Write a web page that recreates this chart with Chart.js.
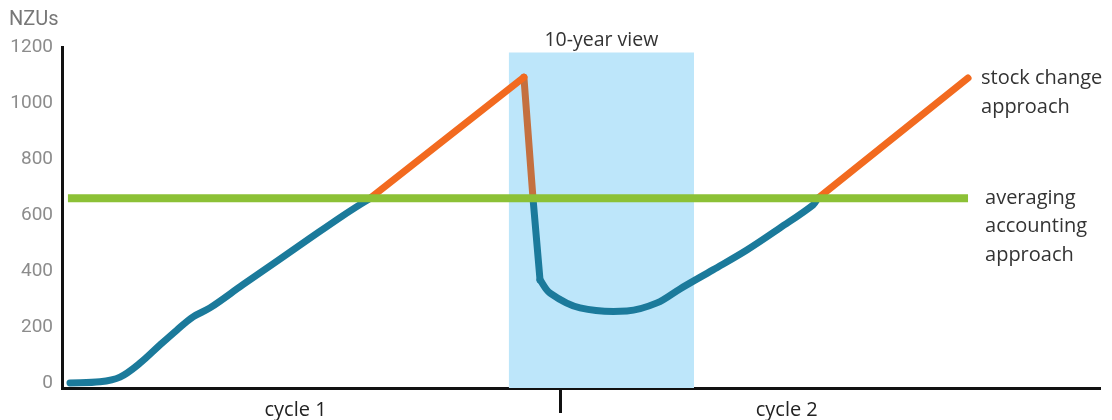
<!DOCTYPE html>
<html>
<head>
<meta charset="utf-8">
<title>NZUs by accounting approach</title>
<script src="https://cdn.jsdelivr.net/npm/chart.js@4/dist/chart.umd.min.js"></script>
<style>
  html, body { margin: 0; padding: 0; background: #fff; }
  #wrap { width: 1112px; height: 420px; }
</style>
</head>
<body>
<div id="wrap"><canvas id="nzuChart"></canvas></div>
<script>
// stock change curve: years vs NZUs held
const stockYears = [0.43, 2.05, 3.13, 4.21, 5.29, 6.2, 7.07, 7.98, 9.76, 11.6, 13.38, 15.16, 16.62,
  24.92, 25.41, 25.79, 26.33, 27.95, 30.48, 32.1, 33.34, 35.12, 36.95, 38.74, 40.52, 40.78, 48.88];
const stockValues = [0, 4, 21, 71, 136, 189, 236, 268, 351, 435, 517, 598, 660,
  1092, 660, 368, 321, 268, 257, 286, 336, 404, 475, 554, 636, 660, 1089];

// averaging accounting level
const avgYears = [0.32, 48.88];
const avgValues = [660, 660];

// 10-year view window
const viewYears = [24.1, 34.1];
const viewValues = [1180, 1180];

const yTicks = [0, 200, 400, 600, 800, 1000, 1200];
const cycleTicks = [12.6, 26.9, 39.1];
const cycleLabels = ["cycle 1", "", "cycle 2"];

const BLUE = "#1b7a9b";
const ORANGE = "#f26a1f";
const BROWN = "#c4703f";
const GREEN = "#8cc136";

// pieces of the stock curve: [first index, last index, colour, tension]
const pieces = [
  [0, 12, BLUE, 0.35],
  [12, 13, ORANGE, 0],
  [13, 14, BROWN, 0],
  [14, 15, BLUE, 0],
  [15, 25, BLUE, 0.35],
  [25, 26, ORANGE, 0],
];

const toXY = (xs, ys) => xs.map((x, i) => ({ x: x, y: ys[i] }));
const stockPoints = toXY(stockYears, stockValues);

const stockSets = pieces.map(([a, b, color, tension]) => ({
  data: stockPoints.slice(a, b + 1),
  borderColor: color,
  borderWidth: 7,
  borderCapStyle: "round",
  borderJoinStyle: "round",
  pointRadius: 0,
  tension: tension,
  order: 2,
}));

// text labels tied to the data
const notes = {
  id: "notes",
  afterDraw(chart) {
    const { ctx, scales: { x, y } } = chart;
    ctx.save();
    ctx.textBaseline = "middle";

    ctx.fillStyle = "#777";
    ctx.font = "20px Roboto";
    ctx.textAlign = "left";
    ctx.fillText("NZUs", 9, 20);

    ctx.fillStyle = "#333";
    ctx.font = "19.5px 'Open Sans'";
    ctx.textAlign = "center";
    ctx.fillText("10-year view", x.getPixelForValue((viewYears[0] + viewYears[1]) / 2), y.top - 7);

    ctx.font = "20px 'Open Sans'";
    ctx.textAlign = "left";
    const n = stockYears.length - 1;
    const sx = x.getPixelForValue(stockYears[n]) + 13;
    const sy = y.getPixelForValue(stockValues[n]);
    ["stock change", "approach"].forEach((t, i) => ctx.fillText(t, sx, sy + i * 29));

    const ax = x.getPixelForValue(avgYears[1]) + 17;
    const ay = y.getPixelForValue(avgValues[1]);
    ["averaging", "accounting", "approach"].forEach((t, i) => ctx.fillText(t, ax, ay + i * 28.5));
    ctx.restore();
  },
};

new Chart(document.getElementById("nzuChart"), {
  type: "line",
  data: {
    datasets: [
      {
        data: toXY(avgYears, avgValues),
        borderColor: GREEN,
        borderWidth: 8,
        pointRadius: 0,
        order: 1,
      },
      ...stockSets,
      {
        data: toXY(viewYears, viewValues),
        borderWidth: 0,
        pointRadius: 0,
        backgroundColor: "#bde6fa",
        fill: "start",
        order: 3,
      },
    ],
  },
  options: {
    responsive: true,
    maintainAspectRatio: false,
    animation: false,
    layout: { padding: { top: 47, right: 12, left: 0, bottom: 0 } },
    plugins: {
      legend: { display: false },
      tooltip: { enabled: false },
    },
    scales: {
      x: {
        type: "linear",
        min: 0,
        max: 56,
        afterBuildTicks: (ax) => { ax.ticks = cycleTicks.map((v) => ({ value: v })); },
        afterFit: (s) => { s.height = 32; },
        ticks: {
          autoSkip: false,
          maxRotation: 0,
          padding: -15,
          color: "#222",
          font: { family: "'Open Sans'", size: 20 },
          callback: (v, i) => cycleLabels[i],
        },
        grid: {
          drawOnChartArea: false,
          tickLength: 25,
          tickWidth: 3,
          tickColor: (c) => (c.index === 1 ? "#111" : "rgba(0,0,0,0)"),
        },
        border: { color: "#111", width: 3 },
      },
      y: {
        min: -18,
        max: 1200,
        afterBuildTicks: (ax) => { ax.ticks = yTicks.map((v) => ({ value: v })); },
        afterFit: (s) => { s.width = 62; },
        ticks: {
          padding: 9,
          color: "#8c8c8c",
          font: { family: "Roboto", size: 19 },
          callback: (v) => String(v),
        },
        grid: { drawOnChartArea: false, drawTicks: false },
        border: { color: "#111", width: 3 },
      },
    },
  },
  plugins: [notes],
});
</script>
</body>
</html>
